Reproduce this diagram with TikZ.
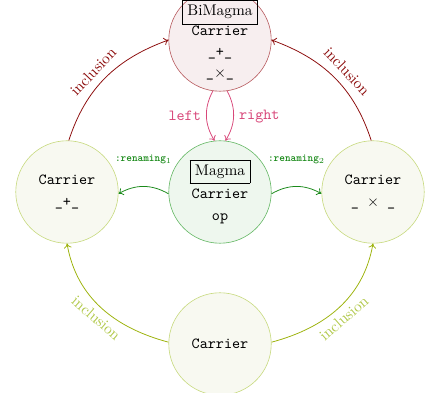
\documentclass[tikz,border=0pt]{standalone}
\usetikzlibrary{arrows.meta}
\definecolor{topfill}{HTML}{F7EEEF}
\definecolor{topdraw}{HTML}{B85C60}
\definecolor{midfill}{HTML}{EEF7EE}
\definecolor{middraw}{HTML}{66B866}
\definecolor{sidefill}{HTML}{F8F9F1}
\definecolor{sidedraw}{HTML}{C8DA80}
\definecolor{incltop}{HTML}{8B0A0A}
\definecolor{lrcol}{HTML}{D8487A}
\definecolor{rencol}{HTML}{1A8A1A}
\definecolor{inclbot}{HTML}{9CB20A}
\definecolor{inclbotlab}{HTML}{B0C848}
\begin{document}
\begin{tikzpicture}[x=0.649pt,y=0.649pt,
  circ/.style={circle, minimum size=66.5pt, inner sep=-12pt, align=center, font=\ttfamily\normalsize},
  topc/.style={circ, fill=topfill, draw=topdraw},
  midc/.style={circ, fill=midfill, draw=middraw},
  sidec/.style={circ, fill=sidefill, draw=sidedraw},
  arr/.style={-{To[length=3pt,width=5pt]}, line width=0.5pt},
  lab/.style={font=\normalfont}
]
\useasboundingbox (0,0) rectangle (429,393);
\node[topc] (bi) at (220,353) {\fbox{\rmfamily BiMagma}\\[0.5pt]Carrier\\[1.6pt]\_+\_\\[1.6pt]\_$\times$\_};
\node[midc] (m) at (220,201) {\fbox{\rmfamily Magma}\\[3pt]Carrier\\[2.6pt]op};
\node[sidec] (l) at (67,201) {Carrier\\[2.6pt]\_+\_};
\node[sidec] (r) at (373,201) {Carrier\\[2.6pt]\_ $\times$ \_};
\node[sidec] (b) at (220,49) {Carrier};

\draw[arr, incltop] (l.88) to[out=72,in=200] node[pos=0.47, sloped, above=1.5pt, lab, text=incltop] {inclusion} (bi.west);
\draw[arr, incltop] (r.92) to[out=108,in=-20] node[pos=0.47, sloped, above=1.5pt, lab, text=incltop] {inclusion} (bi.east);

\draw[arr, lrcol] (bi.-98) to[bend right=30] node[left, font=\ttfamily] {left} (m.96);
\draw[arr, lrcol] (bi.-82) to[bend left=30] node[right, font=\ttfamily] {right} (m.84);

\draw[arr, rencol] (m.182) to[bend right=30] node[midway, above=11pt, font=\scriptsize\ttfamily\bfseries] {:renaming$_1$} (l.-2);
\draw[arr, rencol] (m.-2) to[bend left=30] node[midway, above=11pt, font=\scriptsize\ttfamily\bfseries] {:renaming$_2$} (r.182);

\draw[arr, inclbot] (b.178) to[out=165,in=-80] node[pos=0.48, sloped, below, lab, text=inclbotlab] {inclusion} (l.south);
\draw[arr, inclbot] (b.2) to[out=15,in=-100] node[pos=0.48, sloped, below, lab, text=inclbotlab] {inclusion} (r.south);
\end{tikzpicture}
\end{document}
